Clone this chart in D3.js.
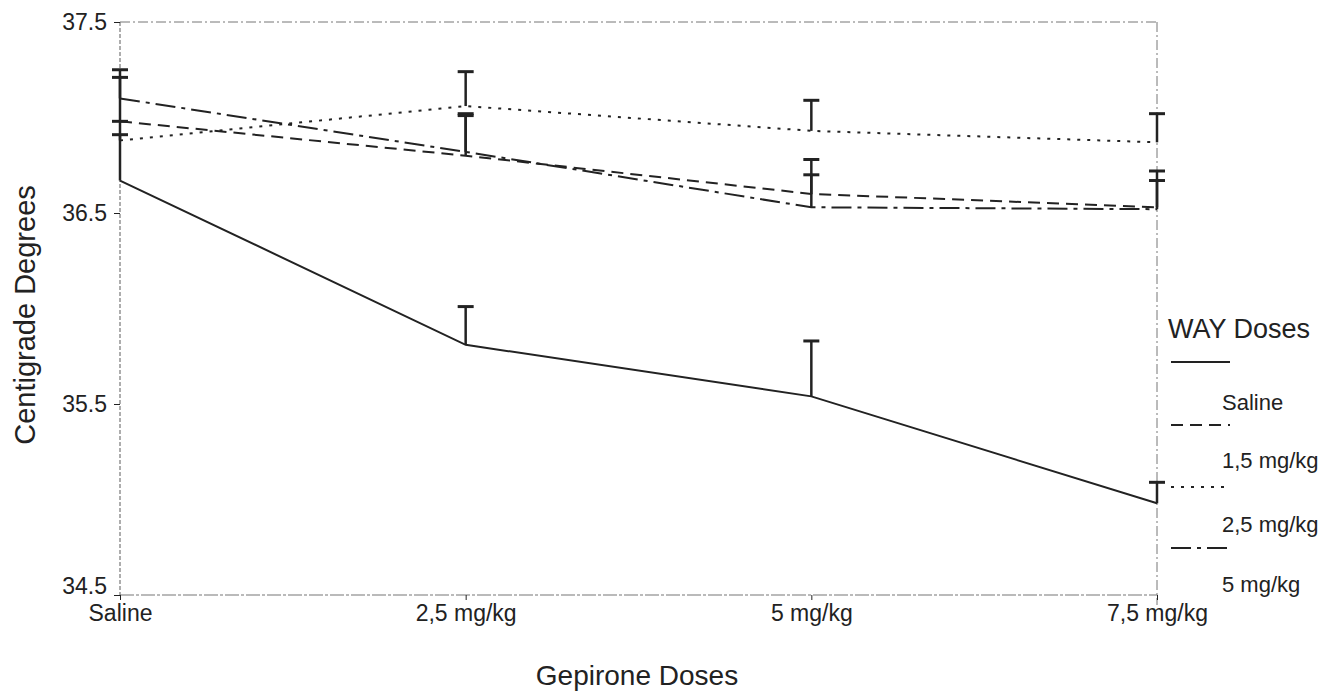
<!DOCTYPE html>
<html><head><meta charset="utf-8">
<script src="https://cdn.jsdelivr.net/npm/d3@7"></script>
<style>body{margin:0;background:#fff}svg{display:block}text{font-family:"Liberation Sans",Arial,sans-serif;fill:#222}</style>
</head><body>
<script>
const categories = ["Saline","2,5 mg/kg","5 mg/kg","7,5 mg/kg"];
const yTicks = [34.5, 35.5, 36.5, 37.5];
const seriesNames = ["Saline","1,5 mg/kg","2,5 mg/kg","5 mg/kg"];
const salineMeans = [36.67, 35.81, 35.54, 34.98];
const salineErr   = [36.91, 36.01, 35.83, 35.09];
const mg15Means   = [36.98, 36.80, 36.60, 36.53];
const mg15Err     = [37.21, 37.01, 36.70, 36.72];
const mg25Means   = [36.88, 37.06, 36.93, 36.87];
const mg25Err     = [36.98, 37.24, 37.09, 37.02];
const mg5Means    = [37.10, 36.82, 36.53, 36.52];
const mg5Err      = [37.25, 37.02, 36.78, 36.67];
const dashes = ["none","12,7","3,7","20,6,4,6"];

const W=1334,H=693;
const svg=d3.select("body").append("svg").attr("width",W).attr("height",H);
const x=d3.scalePoint().domain(categories).range([120,1157]);
const y=d3.scaleLinear().domain([34.5,37.5]).range([595,22]);
const ink="#222", grey="#777";
const FF="Liberation Sans,Arial,sans-serif";

// frame
svg.append("line").attr("x1",120).attr("x2",1157).attr("y1",y(37.5)).attr("y2",y(37.5)).attr("stroke",grey).attr("stroke-width",1).attr("stroke-dasharray","10,3,2,3");
svg.append("line").attr("x1",1157).attr("x2",1157).attr("y1",y(37.5)).attr("y2",605).attr("stroke",grey).attr("stroke-width",1).attr("stroke-dasharray","10,3,2,3");
svg.append("line").attr("x1",120).attr("x2",120).attr("y1",y(37.5)).attr("y2",y(34.5)).attr("stroke",grey).attr("stroke-width",1.2).attr("stroke-dasharray","4,2");
svg.append("line").attr("x1",120).attr("x2",1157).attr("y1",y(34.5)).attr("y2",y(34.5)).attr("stroke",grey).attr("stroke-width",1.2).attr("stroke-dasharray","14,2,3,2");

// y axis ticks
const yAxis=d3.axisLeft(y).tickValues(yTicks).tickFormat(d3.format(".1f")).tickSize(6).tickPadding(7);
const gy=svg.append("g").attr("transform","translate(120,0)").call(yAxis);
gy.attr("font-size",23).attr("font-family",FF);
gy.select(".domain").remove();
gy.selectAll("line").attr("stroke",ink);
gy.selectAll("text").style("fill",ink);
gy.selectAll("text").filter(d=>d===34.5).attr("y",-9);

const xAxis=d3.axisBottom(x).tickSize(5).tickPadding(5);
const gx=svg.append("g").attr("transform","translate(0,595)").call(xAxis);
gx.attr("font-size",23).attr("font-family",FF);
gx.select(".domain").remove();
gx.selectAll("line").attr("stroke",ink);
gx.selectAll("text").style("fill",ink);

// titles
svg.append("text").attr("x",637).attr("y",685).attr("text-anchor","middle").attr("font-size",28).text("Gepirone Doses");
svg.append("text").attr("transform","translate(35,315) rotate(-90)").attr("text-anchor","middle").attr("font-size",29).text("Centigrade Degrees");

const series=[
 {name:seriesNames[0],m:salineMeans,e:salineErr,d:dashes[0]},
 {name:seriesNames[1],m:mg15Means,e:mg15Err,d:dashes[1]},
 {name:seriesNames[2],m:mg25Means,e:mg25Err,d:dashes[2]},
 {name:seriesNames[3],m:mg5Means,e:mg5Err,d:dashes[3]}
];
const line=d3.line().x((d,i)=>x(categories[i])).y(d=>y(d));
series.forEach(s=>{
  svg.append("path").attr("d",line(s.m)).attr("fill","none").attr("stroke",ink).attr("stroke-width",2).attr("stroke-dasharray",s.d==="none"?null:s.d);
  s.m.forEach((v,i)=>{
    const cx=x(categories[i]);
    svg.append("line").attr("x1",cx).attr("x2",cx).attr("y1",y(v)).attr("y2",y(s.e[i])).attr("stroke",ink).attr("stroke-width",2.5);
    svg.append("line").attr("x1",cx-8).attr("x2",cx+8).attr("y1",y(s.e[i])).attr("y2",y(s.e[i])).attr("stroke",ink).attr("stroke-width",3);
  });
});

// legend
svg.append("text").attr("x",1168).attr("y",338).attr("font-size",27).text("WAY Doses");
const legY=[362,425,487,548];
const labY=[410,468,532,592];
series.forEach((s,i)=>{
  svg.append("line").attr("x1",1171).attr("x2",1230).attr("y1",legY[i]).attr("y2",legY[i]).attr("stroke",ink).attr("stroke-width",2).attr("stroke-dasharray",s.d==="none"?null:s.d);
  svg.append("text").attr("x",1222).attr("y",labY[i]).attr("font-size",22).text(s.name);
});
</script>
</body></html>
